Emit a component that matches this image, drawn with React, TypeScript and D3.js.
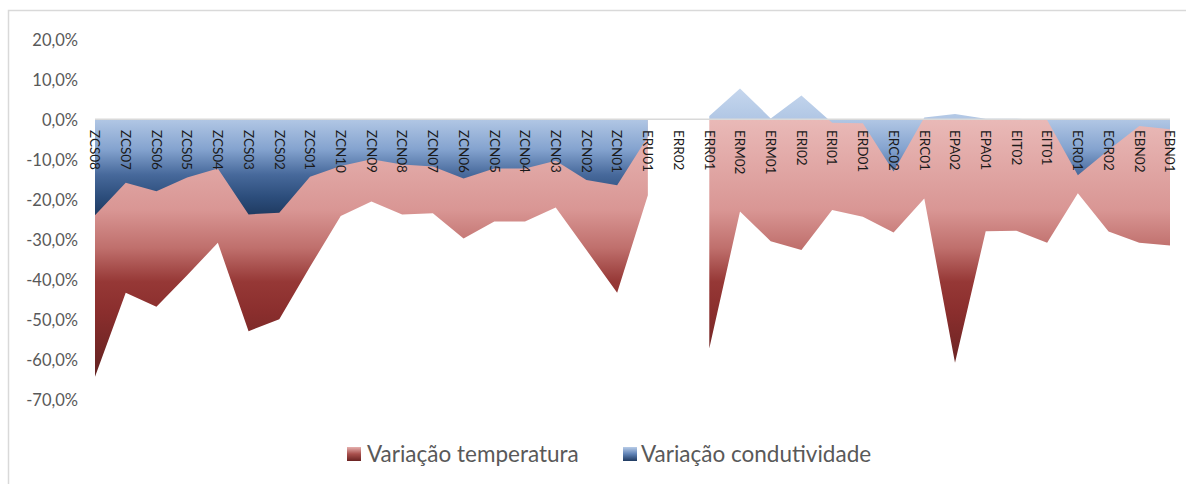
import React from "react";
import * as d3 from "d3";

const categories = [
  "ZCS08", "ZCS07", "ZCS06", "ZCS05", "ZCS04", "ZCS03", "ZCS02", "ZCS01",
  "ZCN10", "ZCN09", "ZCN08", "ZCN07", "ZCN06", "ZCN05", "ZCN04", "ZCN03", "ZCN02", "ZCN01",
  "ERU01", "ERR02", "ERR01", "ERM02", "ERM01", "ERI02", "ERI01", "ERD01", "ERC02", "ERC01",
  "EPA02", "EPA01", "EIT02", "EIT01", "ECR01", "ECR02", "EBN02", "EBN01",
];

// Variação temperatura (%)
const temperatura: (number | null)[] = [
  -64.2, -43.2, -46.7, -38.8, -30.7, -52.8, -49.8, -36.7,
  -24.0, -20.4, -23.6, -23.3, -29.6, -25.4, -25.4, -21.9, -32.5, -43.2,
  -18.8, null, -57.1, -22.9, -30.3, -32.5, -22.5, -24.2, -28.1, -19.6,
  -60.7, -27.8, -27.7, -30.7, -18.3, -27.9, -30.7, -31.4,
];

// Variação condutividade (%)
const condutividade: (number | null)[] = [
  -23.8, -15.7, -17.8, -14.4, -12.1, -23.6, -23.2, -14.2,
  -11.5, -9.8, -11.1, -11.6, -14.6, -12.1, -12.1, -10.2, -15.0, -16.3,
  -4.2, null, 1.0, 7.9, 0.4, 6.1, -0.7, -0.8, -12.9, 0.6,
  1.5, 0.3, 0.3, 0.0, -13.8, -7.5, -1.5, -2.3,
];

const yTicks = [20, 10, 0, -10, -20, -30, -40, -50, -60, -70];

const seriesNames = ["Variação temperatura", "Variação condutividade"];

const W = 1186;
const H = 484;
const FONT = "Lato, 'Liberation Sans', sans-serif";

export default function App() {
  const x = d3.scalePoint<string>().domain(categories).range([95, 1170]);
  const y = d3.scaleLinear().domain([-70, 20]).range([400, 40]);

  const mk = (vals: (number | null)[]) =>
    d3
      .area<number>()
      .defined((i) => vals[i] != null)
      .x((i) => x(categories[i]) as number)
      .y0(() => y(0))
      .y1((i) => y(vals[i] as number));

  const idx = categories.map((_, i) => i);
  const redPath = mk(temperatura)(idx) || "";
  const bluePath = mk(condutividade)(idx) || "";

  const fmt = (v: number) => v.toFixed(1).replace(".", ",") + "%";

  return (
    <svg
      width={W}
      height={H}
      style={{ position: "absolute", left: 0, top: 0, background: "#fff" }}
    >
      <defs>
        <linearGradient id="gRed" x1="0" y1="0" x2="0" y2="1">
          <stop offset="0" stopColor="#E9B9B7" />
          <stop offset="0.35" stopColor="#D99694" />
          <stop offset="0.5" stopColor="#BF6F6C" />
          <stop offset="0.63" stopColor="#963836" />
          <stop offset="0.75" stopColor="#8A2E2D" />
          <stop offset="1" stopColor="#632221" />
        </linearGradient>
        <linearGradient id="gBlue" x1="0" y1="0" x2="0" y2="1">
          <stop offset="0" stopColor="#C6D7EE" />
          <stop offset="0.25" stopColor="#B0C6E4" />
          <stop offset="0.48" stopColor="#84A3CF" />
          <stop offset="0.68" stopColor="#47699B" />
          <stop offset="0.86" stopColor="#2C4D7B" />
          <stop offset="1" stopColor="#1F3A60" />
        </linearGradient>
        <linearGradient id="gRedLeg" x1="0" y1="0" x2="0" y2="1">
          <stop offset="0" stopColor="#E6B0AE" />
          <stop offset="0.5" stopColor="#A84F4C" />
          <stop offset="1" stopColor="#6A2322" />
        </linearGradient>
        <linearGradient id="gBlueLeg" x1="0" y1="0" x2="0" y2="1">
          <stop offset="0" stopColor="#B8CCE8" />
          <stop offset="0.5" stopColor="#5F82B5" />
          <stop offset="1" stopColor="#1F3A60" />
        </linearGradient>
      </defs>

      {/* chart border */}
      <path d={`M8.5,${H} V10.5 H${W}`} fill="none" stroke="#d9d9d9" strokeWidth={1.5} />

      {/* y tick labels */}
      {yTicks.map((t) => (
        <text
          key={t}
          x={78}
          y={y(t)}
          dy="0.35em"
          textAnchor="end"
          fontFamily={FONT}
          fontSize={16.5}
          fill="#595959"
        >
          {fmt(t)}
        </text>
      ))}

      {/* areas */}
      <path d={redPath} fill="url(#gRed)" />
      <path d={bluePath} fill="url(#gBlue)" />

      {/* zero axis line */}
      <line
        x1={x(categories[0])}
        x2={x(categories[categories.length - 1])}
        y1={y(0) - 0.75}
        y2={y(0) - 0.75}
        stroke="#d9d9d9"
        strokeWidth={1.5}
      />

      {/* category labels */}
      {categories.map((c) => (
        <text
          key={c}
          transform={`translate(${x(c)},130) rotate(90)`}
          dy="0.35em"
          textAnchor="start"
          fontFamily={FONT}
          fontSize={13.5}
          fill="#1a1a1a"
        >
          {c}
        </text>
      ))}

      {/* legend */}
      <rect x={347} y={447} width={14} height={14} fill="url(#gRedLeg)" />
      <text x={367} y={461.5} fontFamily={FONT} fontSize={22.5} fill="#595959">
        {seriesNames[0]}
      </text>
      <rect x={623} y={447} width={14} height={14} fill="url(#gBlueLeg)" />
      <text x={641} y={461.5} fontFamily={FONT} fontSize={22.5} fill="#595959">
        {seriesNames[1]}
      </text>
    </svg>
  );
}
